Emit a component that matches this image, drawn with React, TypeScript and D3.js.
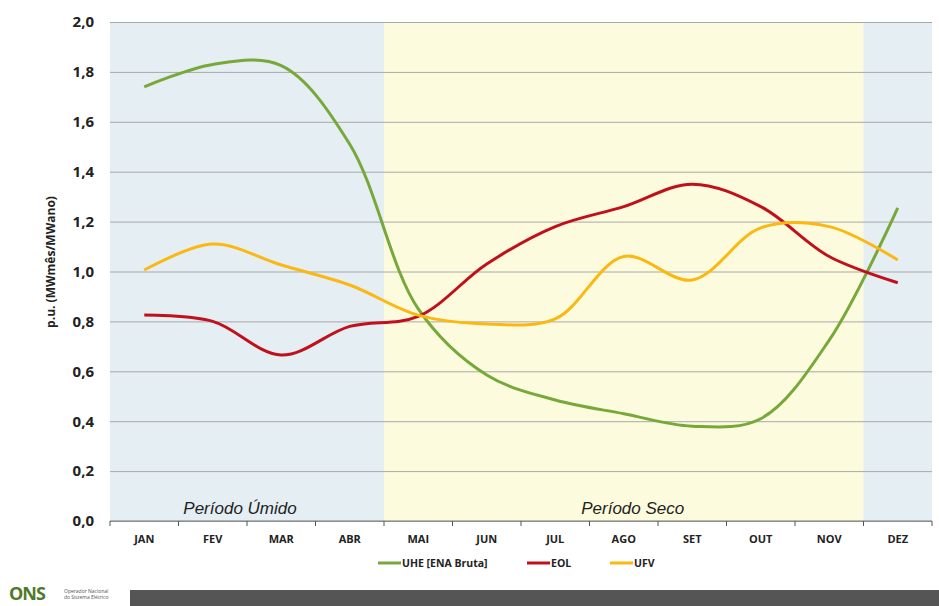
import { useEffect, useRef } from 'react'
import * as d3 from 'd3'

const W = 939, H = 606
const M = { top: 22, right: 7, bottom: 85, left: 110 }

const MONTHS = ['JAN','FEV','MAR','ABR','MAI','JUN','JUL','AGO','SET','OUT','NOV','DEZ']
const Y_TICKS = [0, 0.2, 0.4, 0.6, 0.8, 1.0, 1.2, 1.4, 1.6, 1.8, 2.0]

const UHE = [1.74, 1.83, 1.825, 1.51, 0.85, 0.585, 0.485, 0.43, 0.38, 0.41, 0.725, 1.255]
const EOL = [0.826, 0.80, 0.665, 0.78, 0.82, 1.03, 1.18, 1.26, 1.35, 1.26, 1.06, 0.955]
const UFV = [1.006, 1.11, 1.026, 0.946, 0.825, 0.79, 0.81, 1.06, 0.966, 1.175, 1.18, 1.046]

const SERIES = [
  { label: 'UHE [ENA Bruta]', color: '#77a83a', values: UHE },
  { label: 'EOL',             color: '#c0101c', values: EOL },
  { label: 'UFV',             color: '#fbb812', values: UFV },
]

// periods: wet Jan–Apr + Dec, dry May–Nov
const PERIODS = [
  { from: 'JAN', to: 'ABR', fill: '#e4eef3', label: 'Período Úmido', dx: -7 },
  { from: 'MAI', to: 'NOV', fill: '#fdfbdd', label: 'Período Seco', dx: 9 },
  { from: 'DEZ', to: 'DEZ', fill: '#e4eef3', label: '', dx: 0 },
]

const FONT = 'Open Sans, Liberation Sans, sans-serif'

export default function App() {
  const svgRef = useRef<SVGSVGElement>(null)

  useEffect(() => {
    const svg = d3.select(svgRef.current!)
    svg.selectAll('*').remove()

    const iw = W - M.left - M.right
    const ih = H - M.top - M.bottom
    const g = svg.append('g').attr('transform', `translate(${M.left},${M.top})`)

    const x = d3.scaleBand<string>().domain(MONTHS).range([0, iw])
    const y = d3.scaleLinear().domain([0, 2]).range([ih, 0])
    const cx = (i: number) => x(MONTHS[i])! + x.bandwidth() / 2

    // ── period backgrounds ───────────────────────────────────────────────
    PERIODS.forEach(p => {
      const x0 = x(p.from)!
      const x1 = x(p.to)! + x.bandwidth()
      g.append('rect').attr('x', x0).attr('y', 0).attr('width', x1 - x0).attr('height', ih)
        .attr('fill', p.fill)
      if (p.label) {
        g.append('text').attr('x', (x0 + x1) / 2 + p.dx).attr('y', ih - 7)
          .attr('text-anchor', 'middle').attr('font-size', 17).attr('font-style', 'italic')
          .attr('font-family', 'Liberation Sans, Arial, sans-serif').attr('fill', '#222')
          .text(p.label)
      }
    })

    // ── gridlines + y axis ───────────────────────────────────────────────
    g.append('g')
      .call(d3.axisLeft(y).tickValues(Y_TICKS).tickFormat(d => d3.format('.1f')(d as number).replace('.', ',')).tickSize(-iw).tickPadding(16))
      .call(ax => {
        ax.select('.domain').remove()
        ax.selectAll('.tick line').attr('stroke', '#a8a8a8').attr('stroke-width', 1)
        ax.selectAll('.tick text').attr('font-size', 15).attr('font-weight', 700)
          .attr('font-family', FONT).attr('fill', '#222')
      })

    g.append('text')
      .attr('transform', 'rotate(-90)').attr('x', -240).attr('y', -55)
      .attr('text-anchor', 'middle').attr('font-size', 12).attr('font-weight', 700)
      .attr('font-family', FONT).attr('fill', '#222')
      .text('p.u. (MWmês/MWano)')

    // ── x axis ───────────────────────────────────────────────────────────
    const xAxis = g.append('g').attr('transform', `translate(0,${ih})`)
    xAxis.append('line').attr('x1', 0).attr('x2', iw).attr('stroke', '#777').attr('stroke-width', 1.2)
    xAxis.selectAll('line.tk')
      .data(d3.range(MONTHS.length + 1))
      .join('line').attr('class', 'tk')
      .attr('x1', i => i * x.step()).attr('x2', i => i * x.step())
      .attr('y1', 0).attr('y2', 5).attr('stroke', '#555')
    xAxis.selectAll('text')
      .data(MONTHS)
      .join('text')
      .attr('x', d => x(d)! + x.bandwidth() / 2).attr('y', 22)
      .attr('text-anchor', 'middle').attr('font-size', 11).attr('font-weight', 700)
      .attr('font-family', FONT).attr('fill', '#222')
      .text(d => d)

    // ── lines ────────────────────────────────────────────────────────────
    const line = d3.line<number>().x((_, i) => cx(i)).y(d => y(d)).curve(d3.curveCatmullRom.alpha(0.5))
    SERIES.forEach(s => {
      g.append('path').attr('d', line(s.values))
        .attr('fill', 'none').attr('stroke', s.color).attr('stroke-width', 3)
    })

    // ── legend ───────────────────────────────────────────────────────────
    const LEG_X = [268, 417, 500]
    const lg = g.append('g').attr('transform', `translate(0,${ih + 42})`)
    SERIES.forEach((s, i) => {
      const it = lg.append('g').attr('transform', `translate(${LEG_X[i]},0)`)
      it.append('line').attr('x1', 0).attr('x2', 23).attr('stroke', s.color).attr('stroke-width', 3)
      it.append('text').attr('x', 24).attr('dy', '0.35em').attr('font-size', 10.5).attr('font-weight', 700)
        .attr('font-family', FONT).attr('fill', '#222').text(s.label)
    })

    // ── footer ───────────────────────────────────────────────────────────
    const f = svg.append('g')
    f.append('rect').attr('x', 130).attr('y', 590).attr('width', W - 130).attr('height', 16).attr('fill', '#555')
    f.append('text').attr('x', 9).attr('y', 600).attr('font-size', 18).attr('font-weight', 700)
      .attr('font-family', FONT).attr('fill', '#4f7a2a').attr('letter-spacing', -1).text('ONS')
    f.append('text').attr('x', 64).attr('y', 593).attr('font-size', 5).attr('font-family', FONT)
      .attr('fill', '#555').text('Operador Nacional')
    f.append('text').attr('x', 64).attr('y', 599).attr('font-size', 5).attr('font-family', FONT)
      .attr('fill', '#555').text('do Sistema Elétrico')
  }, [])

  return (
    <div style={{ position: 'absolute', left: 0, top: 0, width: W, height: H, background: '#fff' }}>
      <svg ref={svgRef} width={W} height={H} style={{ display: 'block' }} />
    </div>
  )
}
